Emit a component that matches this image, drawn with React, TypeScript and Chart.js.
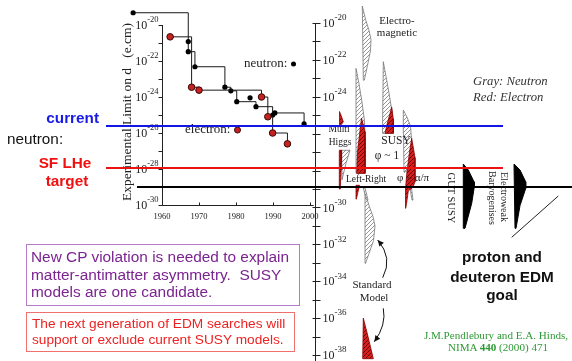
import React, { useEffect, useRef } from "react";
import { Chart, registerables } from "chart.js";
Chart.register(...registerables);

// ---------------- DATA ----------------
// Experimental limits (left panel): year, limit on d (e.cm)
const neutronYears = [1952.2, 1967.1, 1967.1, 1968.9, 1977.0, 1978.6, 1980.2, 1985.4, 1989.9, 1990.5, 1998.4];
const neutronLimits = [4.8e-20, 1.2e-21, 3.3e-22, 4.8e-23, 3.5e-24, 2.2e-24, 5.5e-25, 2.9e-25, 1.0e-25, 1.3e-25, 3.2e-26];
const neutronExtraYears = [1983.8];
const neutronExtraLimits = [9e-25];
const electronYears = [1962.2, 1968.0, 1970.0, 1986.9, 1988.6, 1989.9, 1993.9];
const electronLimits = [2.2e-21, 3.5e-24, 2.4e-24, 1.0e-24, 8e-26, 1.0e-26, 2.5e-27];

const yearTicks = [1960, 1970, 1980, 1990, 2000];
const limitExponents = [-20, -21, -22, -23, -24, -25, -26, -27, -28, -29, -30];
const theoryExponents = [-20, -21, -22, -23, -24, -25, -26, -27, -28, -29, -30, -31, -32, -33, -34, -35, -36, -37, -38];
const theoryLabelExponents = [-20, -22, -24, -30, -32, -34, -36, -38];

// Reference levels
const currentNeutronLimit = 2.6e-26;
const targetNeutronLimit = 1.1e-28;
const goalLimit = 1e-29;

// Theory predictions (right panel): [panel position, log10 d]
const emNeutron = [[47.3, -19.08], [50.5, -19.8], [54, -20.4], [56, -20.9], [55.5, -21.5], [52.5, -22.3], [49.3, -23.1], [48.3, -23.1]];
const lrNeutron = [[41, -22.46], [44, -23.3], [47, -24.3], [49.5, -25.3], [50, -26.2], [50, -28.15], [41.5, -28.15], [41, -25.5]];
const lrNeutronLow = [[48.3, -28.95], [50, -28.95], [53, -29.6], [51.5, -29.6]];
const lrElectron = [[46.5, -25.15], [50, -25.9], [50, -28.15], [41.7, -28.15], [42.5, -27.0]];
const lrElectronLow = [[41, -28.8], [44.5, -28.8], [41.3, -29.55]];
const mhElectronHigh = [[24.5, -24.8], [26, -25.0], [28.3, -25.35], [26.5, -25.5], [24.3, -25.5]];
const mhNeutron = [[26.7, -26.9], [35, -26.9], [31, -27.6], [27, -28.5]];
const mhElectronLow = [[24.3, -26.9], [26.7, -26.9], [26, -28], [25.3, -29.0], [24.3, -29.0]];
const susy1Neutron = [[68.3, -22.1], [71, -22.9], [74, -23.8], [76.7, -24.7], [78.3, -25.98], [67.5, -25.98]];
const susy1Electron = [[76.7, -24.55], [78.3, -25.2], [78.3, -25.98], [70, -25.98], [72, -25.5], [75, -24.9]];
const susyApNeutron = [[88.3, -24.72], [92, -25.1], [95.5, -25.6], [96.5, -26.3], [96.5, -27.9], [89, -28.1], [88.5, -26]];
const susyApNeutronLow = [[95, -28.95], [96.5, -28.95], [98, -29.6], [97, -29.6]];
const susyApElectron = [[96.7, -26.25], [100, -27.3], [100, -28.6], [98, -28.9], [93.3, -29.1], [91.5, -29.8], [90.7, -30.05], [90.5, -29.0], [91.7, -28.2], [94.5, -27]];
const smNeutron = [[50, -29.15], [54, -29.9], [58, -30.5], [60, -31.0], [58.5, -31.8], [54, -32.5], [50.5, -33.03], [50, -33.03]];
const smElectron = [[48.3, -36.0], [53, -37.0], [58.3, -38.2], [47.7, -38.2]];
const gutSusy = [[148.3, -27.65], [153.3, -27.97], [159, -28.61], [159.3, -28.88], [156.7, -29.78], [150, -31.13], [148.3, -31.13]];
const ewBaryo = [[199, -27.65], [205, -27.97], [210.7, -28.61], [210.7, -28.97], [205, -29.9], [201, -31.13], [200, -31.13]];
const pdGoal = [[196.7, -31.62], [243.3, -29.38]];
// Arrows: start, control, end
const smArrowUp = [[67.7, -33.81], [78.2, -32.73], [62.7, -31.77]];
const smArrowDown = [[68.3, -35.47], [71.6, -36.37], [59.3, -37.28]];

// ---------------- STYLE / LAYOUT ----------------
const W = 572, H = 361;
const SERIF = '"Liberation Serif", "Times New Roman", serif';
const SANS = '"Liberation Sans", Arial, Helvetica, sans-serif';
// left panel layout
const L_AXIS_X = 162, L_PX_PER_YEAR = 3.7, L_TOP_PX = 25, L_PX_PER_DEC = 18, L_YEAR_END = 2001;
// right panel layout
const R_AXIS_X = 315, R_TOP_PX = 23, R_PX_PER_DEC = 332 / 18;

function makeHatch(bg: string | null, line: string, lw: number, size = 4) {
  const c = document.createElement("canvas");
  c.width = size; c.height = size;
  const g = c.getContext("2d")!;
  if (bg) { g.fillStyle = bg; g.fillRect(0, 0, size, size); }
  g.strokeStyle = line; g.lineWidth = lw;
  g.beginPath();
  g.moveTo(0, size); g.lineTo(size, 0);
  g.moveTo(-1, 1); g.lineTo(1, -1);
  g.moveTo(size - 1, size + 1); g.lineTo(size + 1, size - 1);
  g.stroke();
  return g.createPattern(c, "repeat")!;
}

function drawPow(ctx: CanvasRenderingContext2D, exp: number, x: number, y: number, align: "left" | "right", base: number, sup: number) {
  const bf = `${base}px ${SERIF}`, sf = `${sup}px ${SERIF}`;
  ctx.font = bf; const wb = ctx.measureText("10").width;
  ctx.font = sf; const ws = ctx.measureText(String(exp)).width;
  const left = align === "right" ? x - wb - ws : x;
  ctx.textAlign = "left"; ctx.textBaseline = "middle"; ctx.fillStyle = "#222";
  ctx.font = bf; ctx.fillText("10", left, y + 1);
  ctx.font = sf; ctx.fillText(String(exp), left + wb, y - 5);
}

function crisp(v: number) { return Math.round(v) + 0.5; }

const toPts = (arr: number[][]) => arr.map(([x, e]) => ({ x, y: Math.pow(10, e) }));
const closed = (arr: number[][]) => toPts([...arr, arr[0]]);

type TP = { x: number; y: number; a?: "l" | "c" | "r"; rot?: number; s?: React.CSSProperties; children: React.ReactNode };
const T = ({ x, y, a = "c", rot = 0, s = {}, children }: TP) => (
  <div style={{ position: "absolute", left: x, top: y, transform: `translate(${a === "l" ? "0" : a === "c" ? "-50%" : "-100%"},-50%)${rot ? ` rotate(${rot}deg)` : ""}`, whiteSpace: "pre", lineHeight: 1, ...s }}>{children}</div>
);

export default function App() {
  const leftRef = useRef<HTMLCanvasElement>(null);
  const rightRef = useRef<HTMLCanvasElement>(null);

  useEffect(() => {
    const gray = makeHatch("rgba(255,255,255,0.95)", "#7a7a7a", 0.8);
    const red = makeHatch("#d62020", "#6a0000", 1);

    // ---------- left chart: experimental limits ----------
    const leftAxes = {
      id: "leftAxes",
      beforeDatasetsDraw(chart: any) {
        const ctx = chart.ctx as CanvasRenderingContext2D;
        const ax = chart.scales.x, ay = chart.scales.y;
        const x0 = crisp(ax.getPixelForValue(1960)), x1 = ax.getPixelForValue(L_YEAR_END);
        const yT = ay.getPixelForValue(1e-20), yB = crisp(ay.getPixelForValue(1e-30));
        ctx.save();
        ctx.strokeStyle = "#222"; ctx.lineWidth = 1;
        ctx.beginPath();
        ctx.moveTo(x0, yT); ctx.lineTo(x0, yB); ctx.lineTo(x1, yB);
        limitExponents.forEach((e) => { const y = crisp(ay.getPixelForValue(Math.pow(10, e))); ctx.moveTo(x0 - 4, y); ctx.lineTo(x0, y); });
        yearTicks.forEach((yr) => { const x = crisp(ax.getPixelForValue(yr)); ctx.moveTo(x, yB); ctx.lineTo(x, yB - 3); });
        ctx.stroke();
        limitExponents.forEach((e) => { if (e % 2 === 0) drawPow(ctx, e, x0 - 4, ay.getPixelForValue(Math.pow(10, e)), "right", 12, 8.5); });
        ctx.font = `8.5px ${SERIF}`; ctx.textAlign = "center"; ctx.textBaseline = "middle"; ctx.fillStyle = "#222";
        yearTicks.forEach((yr) => ctx.fillText(String(yr), ax.getPixelForValue(yr), yB + 11));
        ctx.restore();
      },
      afterDatasetsDraw(chart: any) {
        const ctx = chart.ctx as CanvasRenderingContext2D;
        const ay = chart.scales.y;
        const lines: [number, string, number, number][] = [
          [currentNeutronLimit, "#1414e6", 106, 503],
          [targetNeutronLimit, "#ee1111", 106, 503],
          [goalLimit, "#000000", 137, W],
        ];
        ctx.save();
        ctx.lineWidth = 2;
        lines.forEach(([v, c, xa, xb]) => {
          const y = Math.round(ay.getPixelForValue(v));
          ctx.strokeStyle = c; ctx.beginPath(); ctx.moveTo(xa, y); ctx.lineTo(xb, y); ctx.stroke();
        });
        ctx.restore();
      },
    };

    const left = new Chart(leftRef.current!, {
      type: "line",
      data: {
        datasets: [
          {
            data: electronYears.map((x, i) => ({ x, y: electronLimits[i] })),
            borderColor: "#1a1a1a", borderWidth: 1, stepped: "before", fill: false,
            pointRadius: 3.3, pointBackgroundColor: "#c62222", pointBorderColor: "#3a0808", pointBorderWidth: 1,
          },
          {
            data: neutronExtraYears.map((x, i) => ({ x, y: neutronExtraLimits[i] })),
            showLine: false, pointRadius: 2.6, pointBackgroundColor: "#000", pointBorderWidth: 0,
          },
          {
            data: neutronYears.map((x, i) => ({ x, y: neutronLimits[i] })),
            borderColor: "#1a1a1a", borderWidth: 1, stepped: "before", fill: false,
            pointRadius: 2.6, pointBackgroundColor: "#000", pointBorderWidth: 0,
          },
        ] as any,
      },
      options: {
        animation: false, responsive: false, events: [],
        layout: { padding: 0, autoPadding: false },
        plugins: { legend: { display: false }, tooltip: { enabled: false }, title: { display: false } },
        scales: {
          x: { type: "linear", display: false, min: 1960 - L_AXIS_X / L_PX_PER_YEAR, max: 1960 + (W - L_AXIS_X) / L_PX_PER_YEAR },
          y: { type: "logarithmic", display: false, min: Math.pow(10, -20 - (H - L_TOP_PX) / L_PX_PER_DEC), max: Math.pow(10, -20 + L_TOP_PX / L_PX_PER_DEC) },
        },
      } as any,
      plugins: [leftAxes],
    });

    // ---------- right chart: theory predictions ----------
    const shape = (arr: number[][], bg: any, border: string, bw = 0.8) => ({
      data: closed(arr), fill: "shape", backgroundColor: bg, borderColor: border, borderWidth: bw,
      pointRadius: 0, tension: 0,
    });
    const rightAxes = {
      id: "rightAxes",
      beforeDatasetsDraw(chart: any) {
        const ctx = chart.ctx as CanvasRenderingContext2D;
        const ax = chart.scales.x, ay = chart.scales.y;
        const x0 = crisp(ax.getPixelForValue(0));
        ctx.save();
        ctx.strokeStyle = "#222"; ctx.lineWidth = 1;
        ctx.beginPath();
        ctx.moveTo(x0, ay.getPixelForValue(1e-20)); ctx.lineTo(x0, H);
        theoryExponents.forEach((e) => { const y = crisp(ay.getPixelForValue(Math.pow(10, e))); ctx.moveTo(x0 - 3, y); ctx.lineTo(x0 + 5, y); });
        ctx.stroke();
        theoryLabelExponents.forEach((e) => drawPow(ctx, e, x0 + 7, ay.getPixelForValue(Math.pow(10, e)), "left", 12, 9));
        ctx.restore();
      },
      afterDatasetsDraw(chart: any) {
        const ctx = chart.ctx as CanvasRenderingContext2D;
        const ax = chart.scales.x, ay = chart.scales.y;
        const P = (p: number[]) => [ax.getPixelForValue(p[0]), ay.getPixelForValue(Math.pow(10, p[1]))];
        ctx.save();
        ctx.strokeStyle = "#111"; ctx.fillStyle = "#111"; ctx.lineWidth = 1;
        [smArrowUp, smArrowDown].forEach((arr) => {
          const [s, c, e] = arr.map(P);
          ctx.beginPath(); ctx.moveTo(s[0], s[1]); ctx.quadraticCurveTo(c[0], c[1], e[0], e[1]); ctx.stroke();
          const ang = Math.atan2(e[1] - c[1], e[0] - c[0]);
          const len = 6, wid = 3;
          ctx.beginPath();
          ctx.moveTo(e[0], e[1]);
          ctx.lineTo(e[0] - len * Math.cos(ang) + wid * Math.sin(ang), e[1] - len * Math.sin(ang) - wid * Math.cos(ang));
          ctx.lineTo(e[0] - len * Math.cos(ang) - wid * Math.sin(ang), e[1] - len * Math.sin(ang) + wid * Math.cos(ang));
          ctx.closePath(); ctx.fill();
        });
        ctx.restore();
      },
    };

    const right = new Chart(rightRef.current!, {
      type: "line",
      data: {
        datasets: [
          shape(mhElectronHigh, red, "#8a0000"),
          shape(mhElectronLow, red, "#8a0000"),
          shape(lrElectron, red, "#8a0000"),
          shape(lrElectronLow, red, "#8a0000"),
          shape(susy1Electron, red, "#8a0000"),
          shape(susyApElectron, red, "#8a0000"),
          shape(smElectron, red, "#8a0000"),
          shape(emNeutron, gray, "#777"),
          shape(lrNeutron, gray, "#777"),
          shape(lrNeutronLow, gray, "#777"),
          shape(mhNeutron, gray, "#777"),
          shape(susy1Neutron, gray, "#777"),
          shape(susyApNeutron, gray, "#777"),
          shape(susyApNeutronLow, gray, "#777"),
          shape(smNeutron, gray, "#777"),
          shape(gutSusy, "#000", "#000", 1),
          shape(ewBaryo, "#000", "#000", 1),
          { data: toPts(pdGoal), borderColor: "#222", borderWidth: 1, pointRadius: 0, fill: false },
        ] as any,
      },
      options: {
        animation: false, responsive: false, events: [],
        layout: { padding: { left: R_AXIS_X, right: 0, top: 0, bottom: 0 }, autoPadding: false },
        plugins: { legend: { display: false }, tooltip: { enabled: false }, title: { display: false } },
        scales: {
          x: { type: "linear", display: false, min: 0, max: W - R_AXIS_X },
          y: { type: "logarithmic", display: false, min: Math.pow(10, -20 - (H - R_TOP_PX) / R_PX_PER_DEC), max: Math.pow(10, -20 + R_TOP_PX / R_PX_PER_DEC) },
        },
      } as any,
      plugins: [rightAxes],
    });

    return () => { left.destroy(); right.destroy(); };
  }, []);

  const cv: React.CSSProperties = { position: "absolute", left: 0, top: 0, width: W, height: H };
  const fig = (size: number, extra: React.CSSProperties = {}): React.CSSProperties => ({ fontFamily: SERIF, fontSize: size, color: "#222", ...extra });
  const sans = (size: number, color: string, bold = false): React.CSSProperties => ({ fontFamily: SANS, fontSize: size, color, fontWeight: bold ? 700 : 400 });

  return (
    <div style={{ position: "fixed", left: 0, top: 0, width: W, height: H, background: "#fff", overflow: "hidden" }}>
      <canvas ref={rightRef} width={W} height={H} style={{ ...cv, zIndex: 1 }} />
      <div style={{ position: "absolute", left: 0, top: 0, width: W, height: H, zIndex: 2 }}>
        {/* left panel annotations */}
        <T x={127} y={112} rot={-90} s={fig(13.5)}>{"Experimental Limit on d   (e.cm)"}</T>
        <T x={244} y={62} a="l" s={fig(13)}>
          neutron:<span style={{ display: "inline-block", width: 5, height: 5, borderRadius: "50%", background: "#000", marginLeft: 4, verticalAlign: "middle" }} />
        </T>
        <T x={185} y={128} a="l" s={fig(13)}>
          electron:<span style={{ display: "inline-block", width: 5, height: 5, borderRadius: "50%", background: "#c62222", border: "1px solid #3a0808", marginLeft: 4, verticalAlign: "middle" }} />
        </T>
        {/* slide labels */}
        <T x={99} y={118} a="r" s={sans(15.3, "#1a1ae6", true)}>current</T>
        <T x={7} y={139} a="l" s={sans(15.3, "#111")}>neutron:</T>
        <T x={65} y={163} s={sans(15.3, "#f01010", true)}>SF LHe</T>
        <T x={67} y={181} s={sans(15.3, "#f01010", true)}>target</T>
        {/* right panel annotations */}
        <T x={397} y={20} s={fig(11)}>Electro-</T>
        <T x={397} y={32} s={fig(11)}>magnetic</T>
        <T x={339} y={130} s={fig(9.5)}>Multi</T>
        <T x={340} y={143} s={fig(9.5)}>Higgs</T>
        <T x={396} y={141} s={fig(11.5)}>SUSY</T>
        <T x={387} y={156} s={fig(11.5)}>φ ~ 1</T>
        <T x={366} y={180} s={fig(9.5)}>Left-Right</T>
        <T x={413} y={177} s={fig(11)}>φ ~ α/π</T>
        <T x={451} y={198} rot={90} s={fig(10.5)}>GUT SUSY</T>
        <T x={492} y={198} rot={90} s={fig(10)}>Baryogenises</T>
        <T x={504} y={197} rot={90} s={fig(10)}>Electroweak</T>
        <T x={372} y={284} s={fig(11)}>Standard</T>
        <T x={374} y={297} s={fig(11)}>Model</T>
        <T x={473} y={81} a="l" s={fig(12.7, { fontStyle: "italic", color: "#333" })}>Gray: Neutron</T>
        <T x={473} y={97} a="l" s={fig(12.7, { fontStyle: "italic", color: "#333" })}>Red: Electron</T>
        <T x={502} y={257} s={sans(15.3, "#111", true)}>proton and</T>
        <T x={502} y={277} s={sans(15.3, "#111", true)}>deuteron EDM</T>
        <T x={502} y={295} s={sans(15.3, "#111", true)}>goal</T>
        <T x={496} y={336} s={fig(11.1, { color: "#2f9a35" })}>J.M.Pendlebury and E.A. Hinds,</T>
        <T x={498} y={348} s={fig(11.1, { color: "#2f9a35" })}>NIMA <b>440</b> (2000) 471</T>
        {/* text boxes */}
        <div style={{ position: "absolute", left: 26, top: 244, width: 274, height: 62, boxSizing: "border-box", border: "1.5px solid #b47cc8", padding: "3px 0 0 4px", fontFamily: SANS, fontSize: 15.4, lineHeight: "17.5px", color: "#7b2390", whiteSpace: "pre" }}>
          {"New CP violation is needed to explain\nmatter-antimatter asymmetry.  SUSY\nmodels are one candidate."}
        </div>
        <div style={{ position: "absolute", left: 26, top: 312, width: 269, height: 40, boxSizing: "border-box", border: "1.5px solid #f07070", padding: "3px 0 0 5px", fontFamily: SANS, fontSize: 13.7, lineHeight: "16px", color: "#ee2222", whiteSpace: "pre" }}>
          {"The next generation of EDM searches will\nsupport or exclude current SUSY models."}
        </div>
      </div>
      <canvas ref={leftRef} width={W} height={H} style={{ ...cv, zIndex: 3 }} />
    </div>
  );
}
